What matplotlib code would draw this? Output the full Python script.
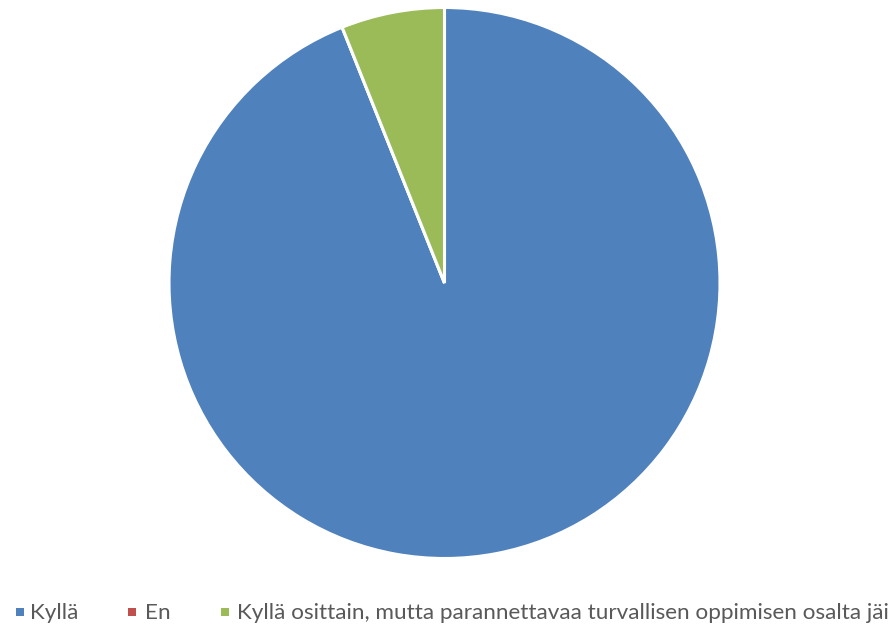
import matplotlib
matplotlib.use("Agg")
import matplotlib.pyplot as plt
from matplotlib.patches import Rectangle

categories = ["Kyllä", "En", "Kyllä osittain, mutta parannettavaa turvallisen oppimisen osalta jäi"]
values = [31, 0, 2]
colors = ["#4F81BD", "#C0504D", "#9BBB59"]

W, H = 894, 628
fig = plt.figure(figsize=(W / 100, H / 100), dpi=100)

cx, cy, r = 444.5, 283, 275.5
ax = fig.add_axes([(cx - r) / W, (H - cy - r) / H, 2 * r / W, 2 * r / H])
ax.pie(values, colors=colors, startangle=90, counterclock=False,
       wedgeprops=dict(edgecolor="white", linewidth=2.2))
ax.set_xlim(-1, 1)
ax.set_ylim(-1, 1)
ax.set_aspect("equal")
ax.axis("off")

# legend font size chosen so the longest label spans about 647 px
family = "Lato"
renderer = fig.canvas.get_renderer()
probe = fig.text(0, 0, categories[2], family=family, fontsize=12)
wpx = probe.get_window_extent(renderer).width
probe.remove()
fs = 12 * 647 / wpx

# legend row: square key + label, laid out in pixel positions
marker_x = [16, 128, 221]
text_x = [30, 145, 237]
marker_y = 612
text_baseline = 619
sq = 8
for mx, tx, c, lab in zip(marker_x, text_x, colors, categories):
    fig.patches.append(Rectangle((mx / W, (H - marker_y - sq / 2) / H), sq / W, sq / H,
                                 transform=fig.transFigure, facecolor=c, edgecolor="none"))
    fig.text(tx / W, (H - text_baseline) / H, lab, family=family, fontsize=fs,
             color="#595959", ha="left", va="baseline")

fig.savefig("out.png", dpi=100)
